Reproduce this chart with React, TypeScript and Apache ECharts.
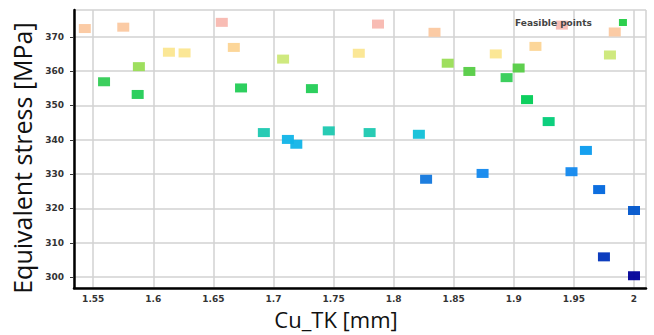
import React, { useEffect, useRef } from "react";
import * as echarts from "echarts";

const cuTk = [
  1.543, 1.575, 1.657, 1.787, 1.834, 1.94, 1.984,
  1.613, 1.626, 1.667, 1.708, 1.771, 1.885, 1.918, 1.98,
  1.588, 1.559, 1.587, 1.673, 1.732, 1.845, 1.863, 1.904, 1.894, 1.911, 1.929,
  1.692, 1.712, 1.719, 1.746, 1.78, 1.821, 1.96,
  1.827, 1.874, 1.948, 1.971, 2.0, 1.975, 2.0,
];
const stress = [
  372.4, 372.8, 374.2, 373.7, 371.3, 373.4, 371.4,
  365.5, 365.3, 366.9, 363.5, 365.2, 365.0, 367.2, 364.7,
  361.3, 356.9, 353.2, 355.1, 354.9, 362.3, 359.9, 360.9, 358.1, 351.7, 345.3,
  342.1, 340.1, 338.7, 342.6, 342.1, 341.6, 336.9,
  328.5, 330.2, 330.7, 325.5, 319.4, 305.9, 300.4,
];
const seriesName = "Feasible points";
const xTitle = "Cu_TK [mm]";
const yTitle = "Equivalent stress [MPa]";

export default function App() {
  const ref = useRef<HTMLDivElement>(null);
  useEffect(() => {
    document.body.style.margin = "0";
    const chart = echarts.init(ref.current!, null, { renderer: "svg" });
    const data = cuTk.map((x, i) => [x, stress[i]]);
    const gridColor = "#d2d2d2";
    const labelStyle = {
      fontFamily: "DejaVu Sans",
      fontWeight: "bold" as const,
      fontSize: 9,
      color: "#333",
    };
    chart.setOption({
      animation: false,
      backgroundColor: "#fff",
      grid: { left: 74, right: 8, top: 10, bottom: 45, containLabel: false },
      legend: {
        data: [{ name: seriesName, itemStyle: { color: "#22cc44" } }],
        align: "right",
        left: 510,
        top: 13,
        itemWidth: 8,
        itemHeight: 7,
        itemGap: 4,
        textStyle: { ...labelStyle, fontSize: 9, color: "#444", padding: [0, 22, 0, 0] },
      },
      visualMap: {
        type: "piecewise",
        show: false,
        seriesIndex: 0,
        dimension: 1,
        pieces: [
          { lt: 303, color: "#000099" },
          { gte: 303, lt: 312, color: "#0033bb" },
          { gte: 312, lt: 322, color: "#0055cc" },
          { gte: 322, lt: 327, color: "#0066dd" },
          { gte: 327, lt: 329.5, color: "#1177dd" },
          { gte: 329.5, lt: 334, color: "#1188ee" },
          { gte: 334, lt: 338, color: "#0a9bee" },
          { gte: 338, lt: 340.5, color: "#10b4e8" },
          { gte: 340.5, lt: 342, color: "#10c0d8" },
          { gte: 342, lt: 344, color: "#1cc8b0" },
          { gte: 344, lt: 348, color: "#00cc77" },
          { gte: 348, lt: 353, color: "#00cc55" },
          { gte: 353, lt: 356, color: "#22cc55" },
          { gte: 356, lt: 358.5, color: "#33cc55" },
          { gte: 358.5, lt: 361, color: "#55cc44" },
          { gte: 361, lt: 362.8, color: "#99dd55" },
          { gte: 362.8, lt: 364.8, color: "#cce878" },
          { gte: 364.8, lt: 366, color: "#fbe690" },
          { gte: 366, lt: 369, color: "#fcd494" },
          { gte: 369, lt: 373, color: "#fbc8a0" },
          { gte: 373, color: "#f8b8b0" },
        ],
      },
      xAxis: {
        type: "value",
        min: 1.534,
        max: 2.01,
        splitNumber: 10,
        name: xTitle,
        nameLocation: "middle",
        nameGap: 19,
        nameTextStyle: {
          fontFamily: "Open Sans",
          fontSize: 22,
          color: "#111",
          padding: [0, 48, 0, 0],
        },
        axisLine: { show: true, onZero: false, lineStyle: { color: "#000", width: 2.5 } },
        axisTick: { show: false },
        axisLabel: { ...labelStyle, margin: 6, showMinLabel: false, showMaxLabel: false },
        splitLine: { show: true, lineStyle: { color: gridColor, width: 1.5 } },
      },
      yAxis: {
        type: "value",
        min: 296.8,
        max: 377.8,
        splitNumber: 8,
        name: yTitle,
        nameLocation: "middle",
        nameGap: 34,
        nameTextStyle: {
          fontFamily: "Open Sans",
          fontSize: 25,
          color: "#111",
          padding: [0, 18, 0, 0],
        },
        axisLine: { show: true, onZero: false, lineStyle: { color: "#000", width: 2.5 } },
        axisTick: { show: true, length: 4, lineStyle: { color: "#333" } },
        axisLabel: { ...labelStyle, margin: 10, showMinLabel: false, showMaxLabel: false },
        splitLine: { show: true, lineStyle: { color: gridColor, width: 1.5 } },
      },
      series: [
        {
          name: seriesName,
          type: "scatter",
          data,
          symbol: "rect",
          symbolSize: [12, 9],
          itemStyle: { color: "#22cc44", opacity: 0.95 },
        },
      ],
    });
    return () => chart.dispose();
  }, []);
  return <div ref={ref} style={{ width: 654, height: 335, position: "fixed", left: 0, top: 0 }} />;
}
